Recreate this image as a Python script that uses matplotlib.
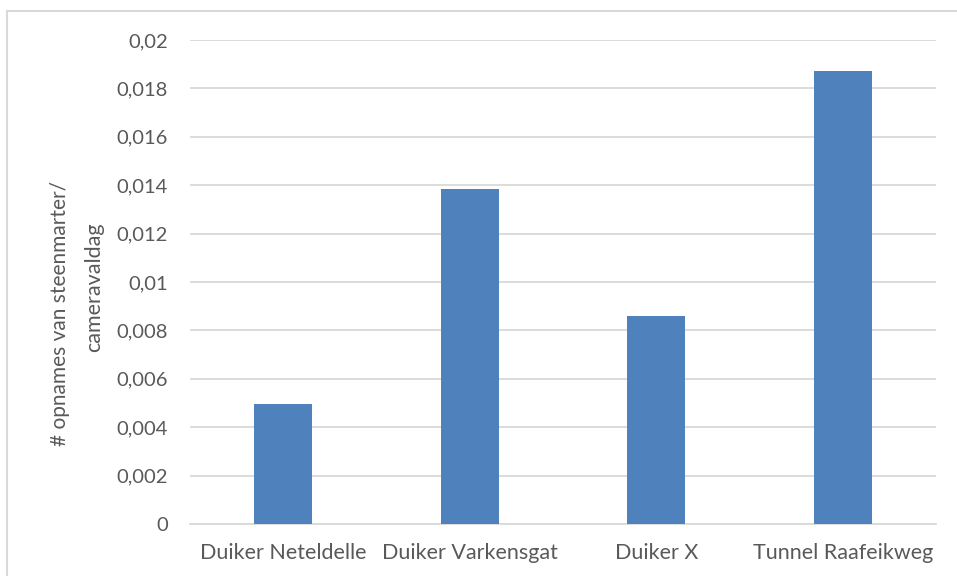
import matplotlib.pyplot as plt
from matplotlib.ticker import FuncFormatter
from matplotlib.patches import Rectangle

categories = ["Duiker Neteldelle", "Duiker Varkensgat", "Duiker X", "Tunnel Raafeikweg"]
values = [0.00497, 0.01384, 0.00861, 0.01872]
yticks = [0, 0.002, 0.004, 0.006, 0.008, 0.01, 0.012, 0.014, 0.016, 0.018, 0.02]
ylabel_lines = ["# opnames van steenmarter/", "cameravaldag"]

plt.rcParams['font.family'] = ['Lato', 'DejaVu Sans']
txt = '#595959'
W, H = 957, 576

fig = plt.figure(figsize=(9.57, 5.76), dpi=100)
# outer chart frame like in Excel
fig.patches.append(Rectangle((7 / W, -0.1), 1.1, 1 - 11 / H + 0.1,
                             transform=fig.transFigure, fill=False,
                             edgecolor='#d9d9d9', linewidth=1.5))
ax = fig.add_axes([190 / W, 1 - 524 / H, 746 / W, 484 / H])

x = range(len(categories))
ax.bar(x, values, width=0.31, color='#4f81bd', zorder=3)
ax.set_xlim(-0.5, len(categories) - 0.5)
ax.set_ylim(0, 0.02)
ax.set_yticks(yticks)
ax.yaxis.set_major_formatter(FuncFormatter(lambda v, p: ('%g' % round(v, 4)).replace('.', ',')))
ax.set_xticks(list(x))
ax.set_xticklabels(categories)
ax.grid(axis='y', color='#d9d9d9', linewidth=1.3, zorder=0)
for s in ['top', 'right', 'left']:
    ax.spines[s].set_visible(False)
ax.spines['bottom'].set_color('#d9d9d9')
ax.spines['bottom'].set_linewidth(1.3)
ax.tick_params(length=0, colors=txt)
ax.tick_params(axis='x', pad=14, labelsize=15.5)
ax.tick_params(axis='y', pad=16, labelsize=14.5)

# y label, two lines placed separately (the wrapped title is not centred)
fig.text(60 / W, 1 - 314 / H, ylabel_lines[0], rotation=90, ha='center', va='center',
         fontsize=15, color=txt)
fig.text(94 / W, 1 - 287 / H, ylabel_lines[1], rotation=90, ha='center', va='center',
         fontsize=15.5, color=txt)

plt.savefig("out.png", dpi=100)
